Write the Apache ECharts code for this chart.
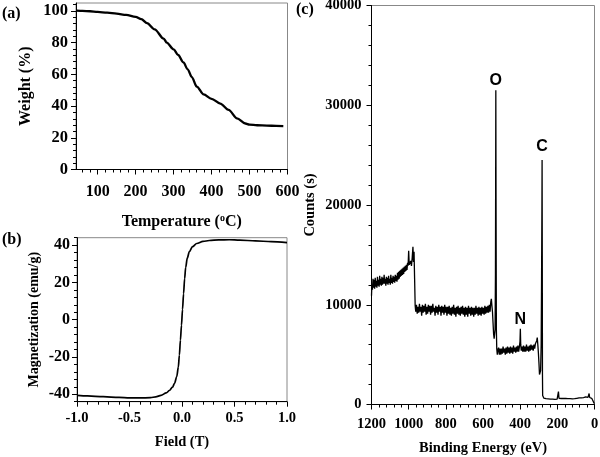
<!DOCTYPE html>
<html><head><meta charset="utf-8">
<script src="https://cdn.jsdelivr.net/npm/echarts@6/dist/echarts.min.js"></script>
<style>html,body{margin:0;padding:0;background:#fff}#c{width:600px;height:457px}</style>
</head><body><div id="c"></div>
<script>
// (a) TGA
const aTemp   = [45, 60, 80, 100, 125, 150, 175, 200, 215, 230, 250, 274, 282, 300, 312, 326, 337, 348, 361, 379, 400, 423, 445, 467, 489, 500, 520, 546, 570, 589];
const aWeight = [100.2, 100, 99.8, 99.4, 98.9, 98.3, 97.5, 96.3, 94.8, 92.3, 88.4, 82.5, 80, 75.8, 72.2, 67.5, 63.2, 58.3, 52.3, 47.4, 44.6, 41.6, 37.6, 32.3, 29.0, 28.3, 27.9, 27.7, 27.5, 27.4];
const aXTicks = [100, 200, 300, 400, 500, 600];
const aYTicks = [0, 20, 40, 60, 80, 100];
// (b) M-H
const bField = [-1.0, -0.9, -0.75, -0.6, -0.5, -0.4, -0.3, -0.25, -0.2, -0.15, -0.12, -0.09, -0.07, -0.05, -0.035, -0.025, -0.015, -0.005, 0.005, 0.015, 0.025, 0.035, 0.05, 0.07, 0.1, 0.14, 0.2, 0.26, 0.35, 0.45, 0.55, 0.7, 0.85, 1.0];
const bMag   = [-40.6, -40.9, -41.3, -41.7, -41.9, -42.0, -41.8, -41.4, -40.6, -39.3, -38.0, -36.2, -34.0, -30.5, -25.5, -19.0, -11.0, -3.0, 5.5, 14.0, 22.0, 28.0, 33.0, 36.5, 39.2, 40.9, 42.0, 42.5, 42.8, 42.9, 42.7, 42.3, 41.9, 41.4];
const bYTicks = [-40, -20, 0, 20, 40];
// (c) XPS survey [binding energy, counts]
const xpsSpectrum = [
[1200,10900],[1198,12000],[1195,11500],[1192,12600],[1189,11700],[1186,12500],[1183,11600],[1180,12700],[1177,11800],[1174,12400],[1171,11700],[1168,12800],[1165,11900],[1162,12500],[1159,11800],[1156,12900],[1153,12000],[1150,12600],[1147,11900],[1144,12800],[1141,12000],[1138,12700],[1135,12100],[1132,13000],[1129,12100],[1126,12600],[1123,11900],[1120,12800],[1117,12100],[1114,12700],[1111,12000],[1108,12900],[1105,12200],[1102,12600],[1099,12000],[1096,13000],[1093,12200],[1090,12700],[1087,12100],[1084,12900],[1081,12300],[1078,12800],[1075,12200],[1072,13000],[1069,12400],[1066,12900],[1063,12300],[1060,13200],[1057,12500],[1054,13300],[1051,12600],[1048,13400],[1045,12800],[1042,13500],[1039,12900],[1036,13600],[1033,13000],[1030,13700],[1027,13100],[1024,13800],[1021,13300],[1018,13900],[1015,13400],[1012,14000],[1009,13500],[1006,14200],[1003,13900],[1000,15400],[997,14000],[993,13800],[989,14400],[985,13900],[981,14700],[977,15800],[974,14300],[971,15300],[968,12600],[965,9900],
[962,9300],[958,10000],[954,9100],[950,9800],[946,9200],[942,10100],[938,9300],[934,9800],[930,8900],[926,10000],[922,9200],[918,9900],[914,9300],[910,10100],[906,9000],[902,9800],[898,9100],[894,10000],[890,9300],[886,9900],[882,9000],[878,9900],[874,9200],[870,10100],[866,9300],[862,9700],[858,8900],[854,9900],[850,9200],[846,9800],[842,9000],[838,10000],[834,9300],[830,9800],[826,8900],[822,9900],[818,9200],[814,9800],[810,9000],[806,10000],[802,9200],[798,9800],[794,8900],[790,9800],[786,9100],[782,9900],[778,9000],[774,9700],[770,8900],[766,9800],[762,9100],[758,10000],[754,9000],[750,9700],[746,8800],[742,9800],[738,9100],[734,9900],[730,9000],[726,9700],[722,8900],[718,9800],[714,9100],[710,9900],[706,9000],[702,9700],[698,8800],[694,9800],[690,9000],[686,9700],[682,8800],[678,9900],[674,9100],[670,9700],[666,8900],[662,9800],[658,9000],[654,9700],[650,8800],[646,9700],[642,9000],[638,9900],[634,9100],[630,9700],[626,8900],[622,9800],[618,9000],[614,9700],[610,8900],[606,9800],[602,9100],[598,9700],[594,9000],[590,9900],[586,9100],[582,9800],[578,9200],[574,9900],[570,9200],[566,10000],[562,9300],[558,10300],[555,10600],[552,9900],
[549,9300],[546,8200],[543,7100],[540,6600],[537,6400],[535,7500],[533,13000],[532,21500],[531,31500],[530,22000],[529,14000],[528,7500],[526,5600],[523,5000],[520,5400],
[516,5700],[512,5000],[508,5600],[504,5000],[500,5600],[496,5100],[492,5800],[488,5200],[484,5600],[480,5000],[476,5700],[472,5100],[468,5800],[464,5200],[460,5700],[456,5100],[452,5800],[448,5200],[444,5700],[440,5100],[436,5900],[432,5300],[428,5700],[424,5200],[420,5800],[416,5300],[412,5900],[408,5300],[404,5800],[401,6300],[399,7600],[397,6000],[394,5400],[390,5800],[386,5300],[382,5900],[378,5300],[374,5800],[370,5300],[366,6000],[362,5400],[358,5800],[354,5300],[350,5900],[346,5400],[342,6000],[338,5500],[334,5900],[330,5400],[326,6000],[322,5600],[318,6100],[314,6000],[311,6400],[308,6700],[305,6000],[302,5200],[299,4200],[296,3000],[293,2800],[290,3400],[287,6000],[285,12000],[283,19500],[282,24500],[281,14000],[280,3000],[279,900],
[276,850],[273,650],[270,800],[267,600],[264,750],[261,580],[258,720],[255,600],[252,700],[249,560],[246,720],[243,580],[240,680],[237,540],[234,660],[231,520],[228,650],[225,540],[222,640],[219,500],[216,620],[213,520],[210,640],[207,500],[204,660],[201,540],[198,640],[194,1300],[191,620],[188,520],[185,620],[182,480],[179,600],[176,500],[173,580],[170,480],[167,600],[164,470],[161,580],[158,460],[155,600],[152,480],[149,570],[146,460],[143,580],[140,470],[137,560],[134,450],[131,580],[128,470],[125,590],[122,480],[119,570],[116,460],[113,600],[110,490],[107,580],[104,480],[101,610],[98,500],[95,620],[92,510],[89,640],[86,520],[83,660],[80,540],[77,640],[74,540],[71,660],[68,560],[65,680],[62,580],[59,700],[56,590],[53,720],[50,600],[47,760],[44,620],[41,800],[38,640],[35,720],[32,650],[29,1100],[26,700],[23,800],[20,640],[18,900],[15,620],[12,480],[9,400],[6,300],[3,160],[0,80]
];
const peakNames  = ['O', 'N', 'C'];
const peakEnergy = [531, 399, 282];
const peakCounts = [31500, 7600, 24500];
const peakGap    = [2, 1, 6];

const serif = 'Liberation Serif';
const black = '#000';
function lbl(size) { return { fontFamily: serif, fontWeight: 'bold', fontSize: size, color: black }; }
function richLabel(size, fmt, extra) {
  return Object.assign({
    formatter: v => '{t|' + fmt(v) + '}',
    rich: { t: lbl(size) }
  }, lbl(size), extra || {});
}
function minorVals(lo, hi, step, major) {
  const v = [];
  for (let i = 0; lo + i * step <= hi + 1e-9; i++) {
    const r = Math.round((lo + i * step) * 1000) / 1000;
    if (Math.abs(r / major - Math.round(r / major)) > 1e-6) v.push(r);
  }
  return v;
}
const aXMinor = minorVals(60, 580, 20, 100);
const aYMinor = minorVals(4, 104, 4, 20);
const bYMinor = minorVals(-44, 44, 4, 20);

const axisLine = { show: true, onZero: false, lineStyle: { color: black, width: 1 } };
const noLine = { show: false, onZero: false };
const tick = (extra) => Object.assign({ show: true, inside: false, length: 5, lineStyle: { color: black, width: 1 } }, extra || {});
const minor = { show: true, splitNumber: 5, length: 3, lineStyle: { color: black, width: 1 } };
const gridBase = { show: true, borderColor: '#888', borderWidth: 1, backgroundColor: 'transparent', containLabel: false, outerBoundsMode: 'none' };
const plain = v => String(v);

const option = {
  animation: false,
  backgroundColor: '#fff',
  textStyle: { fontFamily: serif, fontWeight: 'bold', color: black },
  grid: [
    Object.assign({ left: 76, top: 3, width: 211.5, height: 166.5 }, gridBase),
    Object.assign({ left: 77, top: 237.7, width: 210, height: 164 }, gridBase),
    Object.assign({ left: 371.5, top: 5.5, width: 223, height: 399 }, gridBase)
  ],
  xAxis: [
    { gridIndex: 0, type: 'value', min: 43, max: 600, position: 'bottom', axisLine,
      axisTick: tick({ customValues: aXTicks }),
      axisLabel: richLabel(16, plain, { customValues: aXTicks, margin: 14 }),
      splitLine: { show: false },
      name: 'Temperature ({sup|o}C)', nameLocation: 'middle', nameGap: 44,
      nameTextStyle: Object.assign({ rich: { sup: Object.assign({ padding: [0, 0, 7, 0] }, lbl(10)) } }, lbl(16)) },
    { gridIndex: 0, type: 'value', min: 43, max: 600, position: 'bottom', axisLine: noLine,
      axisTick: tick({ customValues: aXMinor, length: 3 }),
      axisLabel: { show: false }, splitLine: { show: false } },
    { gridIndex: 1, type: 'value', min: -1, max: 1, interval: 0.5, position: 'bottom', axisLine,
      axisTick: tick(), minorTick: minor,
      axisLabel: richLabel(14.5, v => v.toFixed(1), { margin: 9 }),
      splitLine: { show: false }, minorSplitLine: { show: false },
      name: 'Field (T)', nameLocation: 'middle', nameGap: 33, nameTextStyle: lbl(14.5) },
    { gridIndex: 2, type: 'value', min: 0, max: 1200, interval: 200, inverse: true, position: 'bottom', axisLine,
      axisTick: tick(), minorTick: minor,
      axisLabel: richLabel(14.5, plain, { margin: 12 }),
      splitLine: { show: false }, minorSplitLine: { show: false },
      name: 'Binding Energy (eV)', nameLocation: 'middle', nameGap: 36, nameTextStyle: lbl(14.5) }
  ],
  yAxis: [
    { gridIndex: 0, type: 'value', min: 0, max: 105, position: 'left', axisLine,
      axisTick: tick({ customValues: aYTicks }),
      axisLabel: richLabel(16.5, plain, { customValues: aYTicks, margin: 8 }),
      splitLine: { show: false },
      name: 'Weight (%)', nameLocation: 'middle', nameRotate: 90, nameGap: 42, nameTextStyle: lbl(16) },
    { gridIndex: 0, type: 'value', min: 0, max: 105, position: 'left', axisLine: noLine,
      axisTick: tick({ customValues: aYMinor, length: 3 }),
      axisLabel: { show: false }, splitLine: { show: false } },
    { gridIndex: 1, type: 'value', min: -44, max: 44, position: 'left', axisLine,
      axisTick: tick({ customValues: bYTicks }),
      axisLabel: richLabel(16, plain, { customValues: bYTicks, margin: 7 }),
      splitLine: { show: false },
      name: 'Magnetization (emu/g)', nameLocation: 'middle', nameRotate: 90, nameGap: 36, nameTextStyle: lbl(14) },
    { gridIndex: 1, type: 'value', min: -44, max: 44, position: 'left', axisLine: noLine,
      axisTick: tick({ customValues: bYMinor, length: 3 }),
      axisLabel: { show: false }, splitLine: { show: false } },
    { gridIndex: 2, type: 'value', min: 0, max: 40000, interval: 10000, position: 'left', axisLine,
      axisTick: tick(), minorTick: minor,
      axisLabel: richLabel(14.5, plain, { margin: 10 }),
      splitLine: { show: false }, minorSplitLine: { show: false },
      name: 'Counts (s)', nameLocation: 'middle', nameRotate: 90, nameGap: 54, nameTextStyle: lbl(14.5) }
  ],
  series: [
    { type: 'line', xAxisIndex: 0, yAxisIndex: 0, data: aTemp.map((t, i) => [t, aWeight[i]]),
      showSymbol: false, smooth: 0.3, smoothMonotone: 'x', lineStyle: { color: black, width: 2.3 } },
    { type: 'line', xAxisIndex: 2, yAxisIndex: 2, data: bField.map((f, i) => [f, bMag[i]]),
      showSymbol: false, smooth: 0.3, smoothMonotone: 'x', lineStyle: { color: black, width: 1.7 } },
    { type: 'line', xAxisIndex: 3, yAxisIndex: 4, data: xpsSpectrum,
      showSymbol: false, lineStyle: { color: black, width: 1.3 },
      markPoint: {
        symbol: 'circle', symbolSize: 0,
        label: { show: true, position: 'top', formatter: p => p.name, fontFamily: 'Liberation Sans', fontWeight: 'bold', fontSize: 16, color: black },
        data: peakNames.map((n, i) => ({ name: n, coord: [peakEnergy[i], peakCounts[i]], label: { distance: peakGap[i] } }))
      } }
  ],
  graphic: [
    { type: 'text', left: 2, top: 6, style: { text: '(a)', font: 'bold 16px "Liberation Serif"', fill: black } },
    { type: 'text', left: 2, top: 232, style: { text: '(b)', font: 'bold 16px "Liberation Serif"', fill: black } },
    { type: 'text', left: 296, top: 2, style: { text: '(c)', font: 'bold 16px "Liberation Serif"', fill: black } }
  ]
};
const chart = echarts.init(document.getElementById('c'), null, { renderer: 'canvas' });
chart.setOption(option);
</script>
</body></html>
